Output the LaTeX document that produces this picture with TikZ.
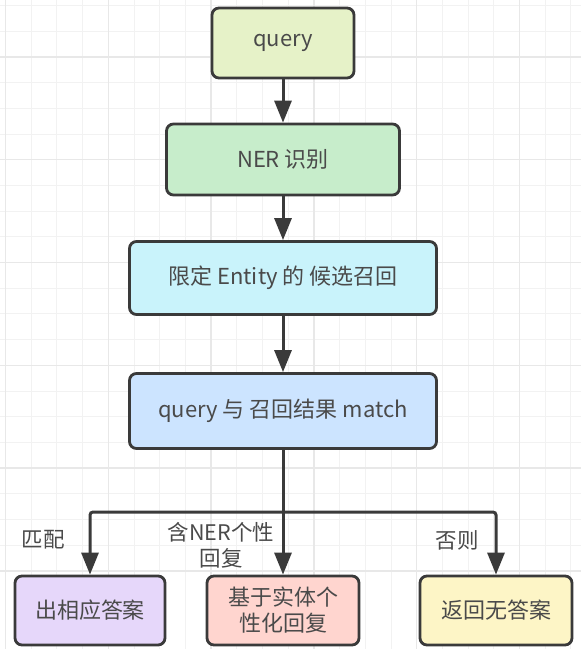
\documentclass[tikz,border=0pt]{standalone}
\usepackage{fontspec}
\setmainfont{Noto Sans CJK SC}
\usetikzlibrary{arrows.meta}
\definecolor{gridminor}{HTML}{F2F2F2}
\definecolor{gridmajor}{HTML}{E8E8E8}
\definecolor{edge}{HTML}{3A3A3A}
\definecolor{txt}{HTML}{4A4A4A}
\definecolor{fq}{HTML}{E6F2C8}
\definecolor{fner}{HTML}{C7EDCB}
\definecolor{fcand}{HTML}{C9F3FB}
\definecolor{fmatch}{HTML}{CCE4FF}
\definecolor{fa}{HTML}{E6D7FA}
\definecolor{fb}{HTML}{FFD5CF}
\definecolor{fc}{HTML}{FDF5C6}
\tikzset{
  box/.style={draw=edge, line width=2.8pt, rounded corners=7pt, text=txt,
    font=\fontsize{22}{26}\selectfont, align=center, inner sep=0pt},
  conn/.style={draw=edge, line width=3pt, -{Triangle[width=17pt,length=22pt]}},
  lbl/.style={text=txt, font=\fontsize{21.5}{26}\selectfont, align=center, inner sep=0pt},
}
\begin{document}
\begin{tikzpicture}[x=1pt,y=-1pt]
\useasboundingbox (0,0) rectangle (581,649);
\fill[white] (0,0) rectangle (581,649);
% grid
\foreach \k in {0,...,22} {
  \pgfmathsetmacro{\p}{5.5+25.7*\k}
  \draw[gridminor, line width=1pt] (\p,0) -- (\p,649);
  \draw[gridminor, line width=1pt] (0,\p) -- (581,\p);
}
\foreach \k in {0,4,...,20} {
  \pgfmathsetmacro{\p}{5.5+25.7*\k}
  \draw[gridmajor, line width=1.4pt] (\p,0) -- (\p,649);
}
\foreach \k in {2,6,...,22} {
  \pgfmathsetmacro{\p}{5.5+25.7*\k}
  \draw[gridmajor, line width=1.4pt] (0,\p) -- (581,\p);
}
% nodes
\node[box, fill=fq, minimum width=142pt, minimum height=70pt] (q) at (283,43) {query};
\node[box, fill=fner, minimum width=233pt, minimum height=71pt] (ner) at (283,159.5) {NER 识别};
\node[box, fill=fcand, minimum width=307pt, minimum height=73pt] (cand) at (283,278) {限定 Entity 的 候选召回};
\node[box, fill=fmatch, minimum width=307pt, minimum height=75pt] (match) at (283,411) {query 与 召回结果 match};
\node[box, fill=fa, minimum width=150pt, minimum height=69pt] (a) at (90,610.5) {出相应答案};
\node[box, fill=fb, minimum width=152pt, minimum height=69pt] (b) at (283,610.5) {基于实体个\\性化回复};
\node[box, fill=fc, minimum width=152pt, minimum height=69pt] (c) at (496,610.5) {返回无答案};
% connectors
\draw[conn] (q) -- (ner);
\draw[conn] (ner) -- (cand);
\draw[conn] (cand) -- (match);
\draw[conn] (match) -- (b);
\coordinate (jn) at (283,512);
\draw[conn, rounded corners=3pt] (jn) -| (a.north);
\draw[conn, rounded corners=3pt] (jn) -| (c.north);
% labels
\node[lbl] (la) at (43,540) {匹配};
\node[lbl] (lb) at (221,545) {含NER个性\\回复};
\node[lbl] (lc) at (457,540) {否则};
\end{tikzpicture}
\end{document}
